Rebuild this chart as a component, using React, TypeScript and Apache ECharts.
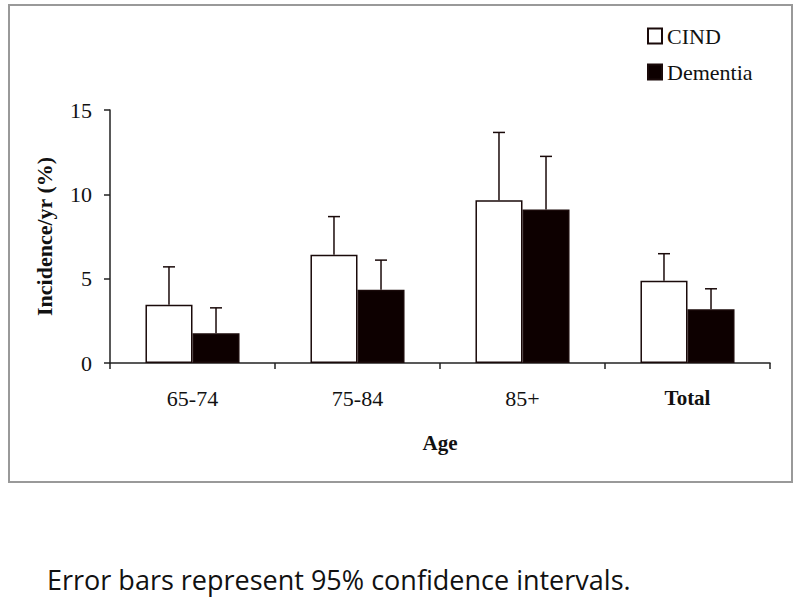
import React, { useEffect, useRef } from "react";
import * as echarts from "echarts";

const categories = ["65-74", "75-84", "85+", "Total"];
const cindValues = [3.45, 6.42, 9.65, 4.88];
const cindUpper = [5.7, 8.68, 13.67, 6.48];
const dementiaValues = [1.76, 4.34, 9.1, 3.19];
const dementiaUpper = [3.27, 6.1, 12.25, 4.4];
const yTicks = { min: 0, max: 15, interval: 5 };

const SERIF = "'Liberation Serif', 'DejaVu Serif', serif";

export default function App() {
  const ref = useRef<HTMLDivElement>(null);

  useEffect(() => {
    document.body.style.margin = "0";
    if (!ref.current) return;
    const chart = echarts.init(ref.current, undefined, { renderer: "svg" });

    const errData: number[][] = [];
    categories.forEach((_, i) => {
      errData.push([i, cindValues[i], cindUpper[i], 0]);
      errData.push([i, dementiaValues[i], dementiaUpper[i], 1]);
    });

    const option: any = {
      animation: false,
      backgroundColor: "#ffffff",
      grid: { left: 110, right: 30, top: 110, bottom: 244, containLabel: false },
      legend: {
        data: ["CIND", "Dementia"],
        orient: "vertical",
        left: 642,
        top: 20,
        itemWidth: 14,
        itemHeight: 15,
        itemGap: 14,
        icon: "rect",
        textStyle: { fontFamily: SERIF, fontSize: 22, color: "#111" },
      },
      xAxis: {
        type: "category",
        data: categories,
        name: "Age",
        nameLocation: "middle",
        nameGap: 69,
        nameTextStyle: { fontFamily: SERIF, fontSize: 21, fontWeight: "bold", color: "#111" },
        axisLine: { lineStyle: { color: "#222", width: 1.5 } },
        axisTick: { show: true, length: 6, lineStyle: { color: "#222", width: 1.5 } },
        axisLabel: {
          margin: 24,
          fontFamily: SERIF,
          fontSize: 22,
          color: "#111",
          formatter: (v: string) => (v === "Total" ? "{b|" + v + "}" : v),
          rich: { b: { fontFamily: SERIF, fontSize: 21, fontWeight: "bold", color: "#111" } },
        },
      },
      yAxis: {
        type: "value",
        min: yTicks.min,
        max: yTicks.max,
        interval: yTicks.interval,
        name: "Incidence/yr (%)",
        nameLocation: "middle",
        nameGap: 55,
        nameRotate: 90,
        nameTextStyle: { fontFamily: SERIF, fontSize: 22, fontWeight: "bold", color: "#111" },
        axisLine: { show: true, lineStyle: { color: "#222", width: 1.5 } },
        axisTick: { show: true, length: 6, lineStyle: { color: "#222", width: 1.5 } },
        axisLabel: { margin: 18, fontFamily: SERIF, fontSize: 22, color: "#111" },
        splitLine: { show: false },
      },
      series: [
        {
          name: "CIND",
          type: "bar",
          data: cindValues,
          barGap: "0%",
          barCategoryGap: "43%",
          itemStyle: { color: "#ffffff", borderColor: "#1a0a0a", borderWidth: 1.5 },
        },
        {
          name: "Dementia",
          type: "bar",
          data: dementiaValues,
          barGap: "0%",
          barCategoryGap: "43%",
          itemStyle: { color: "#0d0000", borderColor: "#1a0a0a", borderWidth: 1.5 },
        },
        {
          name: "errors",
          type: "custom",
          data: errData,
          z: 10,
          renderItem: (params: any, api: any) => {
            const idx = api.value(0);
            const base = api.coord([idx, api.value(1)]);
            const top = api.coord([idx, api.value(2)]);
            const band = api.size([1, 0])[0];
            const barW = (band * 0.57) / 2;
            const which = api.value(3);
            const x = base[0] + (which === 0 ? -barW / 2 : barW / 2);
            const cap = 6;
            const style = { stroke: "#1a0a0a", lineWidth: 1.5 };
            return {
              type: "group",
              children: [
                { type: "line", shape: { x1: x, y1: base[1], x2: x, y2: top[1] }, style },
                { type: "line", shape: { x1: x - cap, y1: top[1], x2: x + cap, y2: top[1] }, style },
              ],
            };
          },
        },
      ],
      graphic: [
        {
          type: "rect",
          shape: { x: 9, y: 5, width: 783, height: 477 },
          style: { fill: "none", stroke: "#999", lineWidth: 2 },
          silent: true,
        },
        {
          type: "text",
          left: 47,
          top: 566,
          style: {
            text: "Error bars represent 95% confidence intervals.",
            fontFamily: "'Open Sans', 'Noto Sans', sans-serif",
            fontSize: 27,
            fill: "#111",
          },
        },
      ],
    };

    chart.setOption(option);
    return () => chart.dispose();
  }, []);

  return <div ref={ref} style={{ width: 800, height: 607 }} />;
}
